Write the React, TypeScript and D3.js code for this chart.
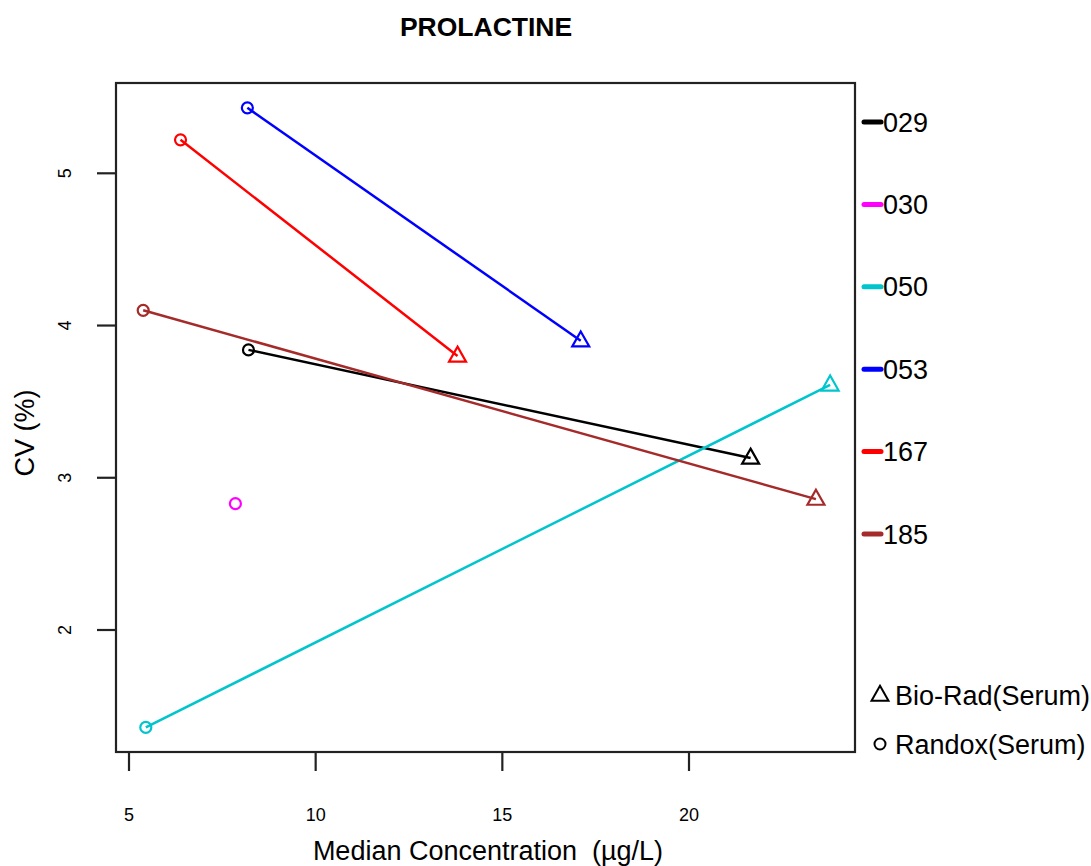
import React from "react";
import * as d3 from "d3";

// Laboratory codes and their colours
const labs = ["029", "030", "050", "053", "167", "185"];
const labColors = ["#000000", "#FF00FF", "#00C5CD", "#0000FF", "#FF0000", "#A52A2A"];

// Randox (Serum) control: median concentration and CV per lab (circle)
const randoxMedian = [8.2, 7.85, 5.45, 8.17, 6.38, 5.38];
const randoxCV = [3.84, 2.83, 1.36, 5.43, 5.22, 4.1];

// Bio-Rad (Serum) control: median concentration and CV per lab (triangle); lab 030 has none
const bioradMedian: (number | null)[] = [21.65, null, 23.78, 17.1, 13.8, 23.4];
const bioradCV: (number | null)[] = [3.13, null, 3.61, 3.9, 3.8, 2.86];

const xTicks = [5, 10, 15, 20];
const yTicks = [2, 3, 4, 5];

const W = 1091;
const H = 866;
const box = { left: 116, right: 855, top: 83, bottom: 752 };

const FONT = "'Liberation Sans', Arial, Helvetica, sans-serif";

export default function App() {
  const x = d3.scaleLinear().domain([5, 20]).range([129, 689]);
  const y = d3.scaleLinear().domain([2, 5]).range([630, 173.3]);

  const triPath = (cx: number, cy: number, s = 8.5) => {
    const h = s * Math.sqrt(3);
    return `M${cx},${cy - (2 / 3) * h * 0.95} L${cx + s},${cy + (1 / 3) * h * 0.95 + 1} L${cx - s},${cy + (1 / 3) * h * 0.95 + 1} Z`;
  };

  const legendY = d3.scaleLinear().domain([0, 5]).range([122, 534]);

  return (
    <svg width={W} height={H} style={{ display: "block", position: "absolute", left: 0, top: 0, background: "#fff" }}>
      <rect x={0} y={0} width={W} height={H} fill="#fff" />
      <text x={486} y={36} textAnchor="middle" fontFamily={FONT} fontWeight="bold" fontSize={26.5} fill="#000">
        PROLACTINE
      </text>

      {/* plot frame */}
      <rect
        x={box.left}
        y={box.top}
        width={box.right - box.left}
        height={box.bottom - box.top}
        fill="none"
        stroke="#222"
        strokeWidth={2.2}
      />

      {/* x axis */}
      {xTicks.map((t) => (
        <g key={"x" + t}>
          <line x1={x(t)} x2={x(t)} y1={box.bottom} y2={771} stroke="#222" strokeWidth={2.2} />
          <text x={x(t)} y={821} textAnchor="middle" fontFamily={FONT} fontSize={18} fill="#000">
            {t}
          </text>
        </g>
      ))}
      <text
        x={488}
        y={860}
        textAnchor="middle"
        fontFamily={FONT}
        fontSize={27}
        fill="#000"
        style={{ whiteSpace: "pre" }}
      >
        {"Median Concentration  (µg/L)"}
      </text>

      {/* y axis */}
      {yTicks.map((t) => (
        <g key={"y" + t}>
          <line x1={97} x2={box.left} y1={y(t)} y2={y(t)} stroke="#222" strokeWidth={2.2} />
          <text
            transform={`translate(71,${y(t)}) rotate(-90)`}
            textAnchor="middle"
            fontFamily={FONT}
            fontSize={18}
            fill="#000"
          >
            {t}
          </text>
        </g>
      ))}
      <text
        transform={`translate(34,433) rotate(-90)`}
        textAnchor="middle"
        fontFamily={FONT}
        fontSize={27}
        fill="#000"
      >
        CV (%)
      </text>

      {/* connecting lines and markers */}
      {labs.map((lab, i) => {
        const bx = bioradMedian[i];
        const by = bioradCV[i];
        const c = labColors[i];
        return (
          <g key={lab}>
            {bx !== null && by !== null && (
              <line
                x1={x(randoxMedian[i])}
                y1={y(randoxCV[i])}
                x2={x(bx)}
                y2={y(by)}
                stroke={c}
                strokeWidth={2.5}
              />
            )}
            <circle cx={x(randoxMedian[i])} cy={y(randoxCV[i])} r={5.5} fill="none" stroke={c} strokeWidth={2.2} />
            {bx !== null && by !== null && (
              <path d={triPath(x(bx), y(by))} fill="none" stroke={c} strokeWidth={2.2} strokeLinejoin="miter" />
            )}
          </g>
        );
      })}

      {/* lab legend */}
      {labs.map((lab, i) => (
        <g key={"leg" + lab}>
          <line
            x1={864}
            x2={881}
            y1={legendY(i)}
            y2={legendY(i)}
            stroke={labColors[i]}
            strokeWidth={5}
            strokeLinecap="round"
          />
          <text x={883} y={legendY(i) + 9.5} fontFamily={FONT} fontSize={27} fill="#000">
            {lab}
          </text>
        </g>
      ))}

      {/* control legend */}
      <path d={triPath(880, 695, 8.5)} fill="none" stroke="#000" strokeWidth={2} />
      <text x={895} y={704.5} fontFamily={FONT} fontSize={27} fill="#000">
        Bio-Rad(Serum)
      </text>
      <circle cx={880} cy={744} r={5.5} fill="none" stroke="#000" strokeWidth={2} />
      <text x={895} y={753.5} fontFamily={FONT} fontSize={27} fill="#000">
        Randox(Serum)
      </text>
    </svg>
  );
}
